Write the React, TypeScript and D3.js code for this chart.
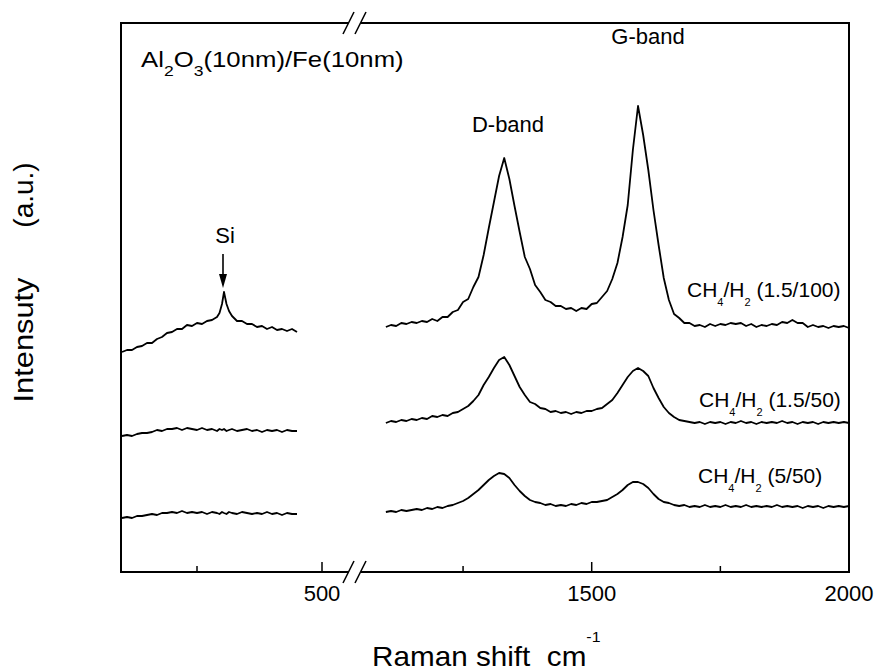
import React from "react";
import * as d3 from "d3";

// Raman spectra of CNT films grown on Al2O3(10nm)/Fe(10nm) at three CH4/H2 ratios.
// The x axis is broken between the low-shift (Si) window and the D/G-band window.

const W = 877;
const H = 671;
const FONT = "'Liberation Sans', Arial, Helvetica, sans-serif";

// Low-shift window sampling (cm-1)
const leftShift = [
  100, 110, 120, 130, 140, 150, 160, 170, 180, 190, 200, 210, 220, 230, 240, 250, 260, 270, 280, 290,
  295, 300, 304, 309, 314, 320, 330, 340, 350, 360, 370, 380, 390, 400, 410, 420, 430, 440, 450,
];

// D/G window sampling (cm-1)
const rightShift = d3.range(1100, 2001, 10);

// CH4/H2 (1.5/100)
const topLeft = [
  220, 222, 222, 225, 226, 229, 229, 233, 235, 239, 240, 243, 243, 247, 246, 249, 248, 251, 252, 255,
  259, 268, 280, 268, 261, 256, 251, 251, 248, 248, 245, 246, 243, 245, 242, 243, 241, 243, 240,
];
const topRight = [
  245, 247, 246, 249, 248, 250, 249, 251, 250, 253, 251, 255, 255, 260, 262, 270, 273, 285, 295, 317,
  344, 370, 396, 414, 393, 366, 340, 315, 303, 287, 280, 272, 270, 266, 266, 263, 264, 261, 264, 263,
  268, 269, 275, 281, 293, 309, 335, 367, 422, 466, 437, 402, 362, 327, 294, 272, 258, 254, 249, 249,
  246, 247, 245, 248, 246, 248, 247, 249, 248, 249, 246, 248, 245, 247, 246, 248, 247, 250, 249, 252,
  249, 249, 245, 247, 245, 246, 244, 246, 245, 246, 244,
];

// CH4/H2 (1.5/50)
const midLeft = [
  136, 137, 136, 138, 139, 139, 140, 142, 141, 143, 143, 144, 142, 144, 143, 142, 144, 142, 143, 141,
  143, 142, 143, 141, 142, 143, 141, 142, 143, 141, 142, 140, 142, 141, 142, 140, 142, 141, 141,
];
const midRight = [
  149, 151, 150, 152, 151, 153, 152, 154, 153, 156, 155, 157, 156, 159, 160, 163, 166, 171, 177, 187,
  195, 204, 212, 215, 207, 196, 185, 177, 170, 168, 164, 163, 160, 161, 159, 160, 158, 160, 159, 161,
  161, 163, 164, 168, 172, 179, 187, 195, 201, 204, 201, 196, 184, 174, 165, 159, 155, 152, 151, 150,
  149, 150, 148, 150, 149, 150, 148, 150, 149, 151, 149, 150, 148, 150, 149, 150, 149, 151, 149, 150,
  148, 150, 149, 150, 148, 150, 149, 150, 149, 150, 149,
];

// CH4/H2 (5/50)
const lowLeft = [
  54, 55, 54, 56, 56, 57, 58, 57, 59, 59, 60, 59, 61, 59, 60, 59, 60, 58, 60, 59,
  58, 60, 59, 58, 60, 59, 58, 60, 59, 58, 59, 58, 60, 58, 59, 57, 59, 58, 58,
];
const lowRight = [
  60, 61, 60, 62, 61, 62, 63, 62, 64, 63, 65, 64, 66, 67, 69, 71, 74, 78, 82, 87,
  92, 96, 99, 98, 94, 87, 81, 76, 72, 70, 69, 67, 68, 66, 67, 66, 68, 67, 69, 68,
  70, 70, 71, 72, 75, 78, 82, 87, 90, 90, 88, 84, 78, 73, 70, 69, 67, 66, 67, 65,
  66, 65, 67, 65, 66, 65, 67, 65, 66, 65, 67, 65, 66, 65, 66, 65, 67, 65, 66, 65,
  66, 64, 66, 65, 66, 64, 66, 65, 66, 65, 66,
];

const seriesRatios = ["(1.5/100)", "(1.5/50)", "(5/50)"];

const leftMajorTicks = [500];
const leftMinorTicks = [250];
const rightMajorTicks = [1500, 2000];
const rightMinorTicks = [1250, 1750];

const siPeakShift = 304;
const siPeakIntensity = 280;

// Plot frame
const fL = 121;
const fR = 849;
const fT = 23;
const fB = 572;
const breakX = 355;

const xLeft = d3.scaleLinear().domain([100, 566]).range([122, breakX]);
const xRight = d3.scaleLinear().domain([1040, 2000]).range([breakX, 849]);
const y = d3.scaleLinear().domain([0, 549]).range([572, 23]);

function linePath(xs: number[], vs: number[], sx: d3.ScaleLinear<number, number>) {
  const gen = d3
    .line<number>()
    .x((_, i) => sx(xs[i]))
    .y((v) => y(v));
  return gen(vs) || "";
}

function RatioLabel({ x, yb, ratio }: { x: number; yb: number; ratio: string }) {
  return (
    <text x={x} y={yb} fontSize={21} fontFamily={FONT} fill="#000">
      CH
      <tspan fontSize={11} dy={9}>
        4
      </tspan>
      <tspan dy={-9}>/H</tspan>
      <tspan fontSize={11} dy={9}>
        2
      </tspan>
      <tspan dy={-9}>{"\u00a0" + ratio}</tspan>
    </text>
  );
}

function BreakMark({ yAxis }: { yAxis: number }) {
  return (
    <g>
      <rect x={breakX - 6} y={yAxis - 2} width={12} height={4} fill="#fff" />
      <line x1={breakX - 12} y1={yAxis + 11} x2={breakX - 1} y2={yAxis - 11} stroke="#000" strokeWidth={1.6} />
      <line x1={breakX} y1={yAxis + 11} x2={breakX + 11} y2={yAxis - 11} stroke="#000" strokeWidth={1.6} />
    </g>
  );
}

export default function App() {
  const spectra = [
    { l: topLeft, r: topRight },
    { l: midLeft, r: midRight },
    { l: lowLeft, r: lowRight },
  ];
  const siX = xLeft(siPeakShift);
  const siY = y(siPeakIntensity);

  return (
    <svg
      width={W}
      height={H}
      viewBox={`0 0 ${W} ${H}`}
      style={{ position: "absolute", left: 0, top: 0, background: "#fff" }}
    >
      <rect x={0} y={0} width={W} height={H} fill="#fff" />

      {/* spectra */}
      {spectra.map((s, i) => (
        <g key={i} fill="none" stroke="#000" strokeWidth={1.8} strokeLinejoin="round">
          <path d={linePath(leftShift, s.l, xLeft)} />
          <path d={linePath(rightShift, s.r, xRight)} />
        </g>
      ))}

      {/* frame */}
      <rect x={fL} y={fT} width={fR - fL} height={fB - fT} fill="none" stroke="#000" strokeWidth={2} />
      <BreakMark yAxis={fT} />
      <BreakMark yAxis={fB} />

      {/* ticks */}
      <g stroke="#000" strokeWidth={1.5}>
        {leftMajorTicks.map((t) => (
          <line key={"lM" + t} x1={xLeft(t)} x2={xLeft(t)} y1={fB} y2={fB - 10} />
        ))}
        {leftMinorTicks.map((t) => (
          <line key={"lm" + t} x1={xLeft(t)} x2={xLeft(t)} y1={fB} y2={fB - 6} />
        ))}
        {rightMajorTicks.map((t) => (
          <line key={"rM" + t} x1={xRight(t)} x2={xRight(t)} y1={fB} y2={fB - 10} />
        ))}
        {rightMinorTicks.map((t) => (
          <line key={"rm" + t} x1={xRight(t)} x2={xRight(t)} y1={fB} y2={fB - 6} />
        ))}
      </g>
      <g fontFamily={FONT} fontSize={22} textAnchor="middle" fill="#000">
        {leftMajorTicks.map((t) => (
          <text key={"lt" + t} x={xLeft(t)} y={601}>
            {t}
          </text>
        ))}
        {rightMajorTicks.map((t) => (
          <text key={"rt" + t} x={xRight(t)} y={601}>
            {t}
          </text>
        ))}
      </g>

      {/* axis titles */}
      <g transform="translate(372,666) scale(1.06,1)">
        <text x={0} y={0} fontFamily={FONT} fontSize={28} fill="#000">
          {"Raman shift\u00a0\u00a0cm"}
          <tspan fontSize={15} dy={-24}>
            -1
          </tspan>
        </text>
      </g>
      <g transform="translate(33,340) rotate(-90) scale(1.1,1)">
        <text x={0} y={0} fontFamily={FONT} fontSize={28} textAnchor="middle" fill="#000">
          Intensuty
        </text>
      </g>
      <g transform="translate(33,195) rotate(-90)">
        <text x={0} y={0} fontFamily={FONT} fontSize={28} textAnchor="middle" fill="#000">
          (a.u.)
        </text>
      </g>

      {/* sample label */}
      <g transform="translate(141,67) scale(1.17,1)">
        <text x={0} y={0} fontFamily={FONT} fontSize={22} fill="#000">
          Al
          <tspan fontSize={15} dy={9}>
            2
          </tspan>
          <tspan dy={-9}>O</tspan>
          <tspan fontSize={15} dy={9}>
            3
          </tspan>
          <tspan dy={-9}>(10nm)/Fe(10nm)</tspan>
        </text>
      </g>

      {/* band annotations */}
      <g fontFamily={FONT} fontSize={22} textAnchor="middle" fill="#000">
        <text x={508} y={132}>
          D-band
        </text>
        <text x={648} y={44}>
          G-band
        </text>
        <text x={siX + 1} y={243}>
          Si
        </text>
      </g>
      <line x1={siX - 1} x2={siX - 1} y1={siY - 38} y2={siY - 16} stroke="#000" strokeWidth={1.6} />
      <polygon
        points={`${siX - 5},${siY - 18} ${siX + 3},${siY - 18} ${siX - 1},${siY - 4}`}
        fill="#000"
      />

      {/* series labels */}
      <RatioLabel x={687} yb={297} ratio={seriesRatios[0]} />
      <RatioLabel x={699} yb={407} ratio={seriesRatios[1]} />
      <RatioLabel x={698} yb={483} ratio={seriesRatios[2]} />
    </svg>
  );
}
